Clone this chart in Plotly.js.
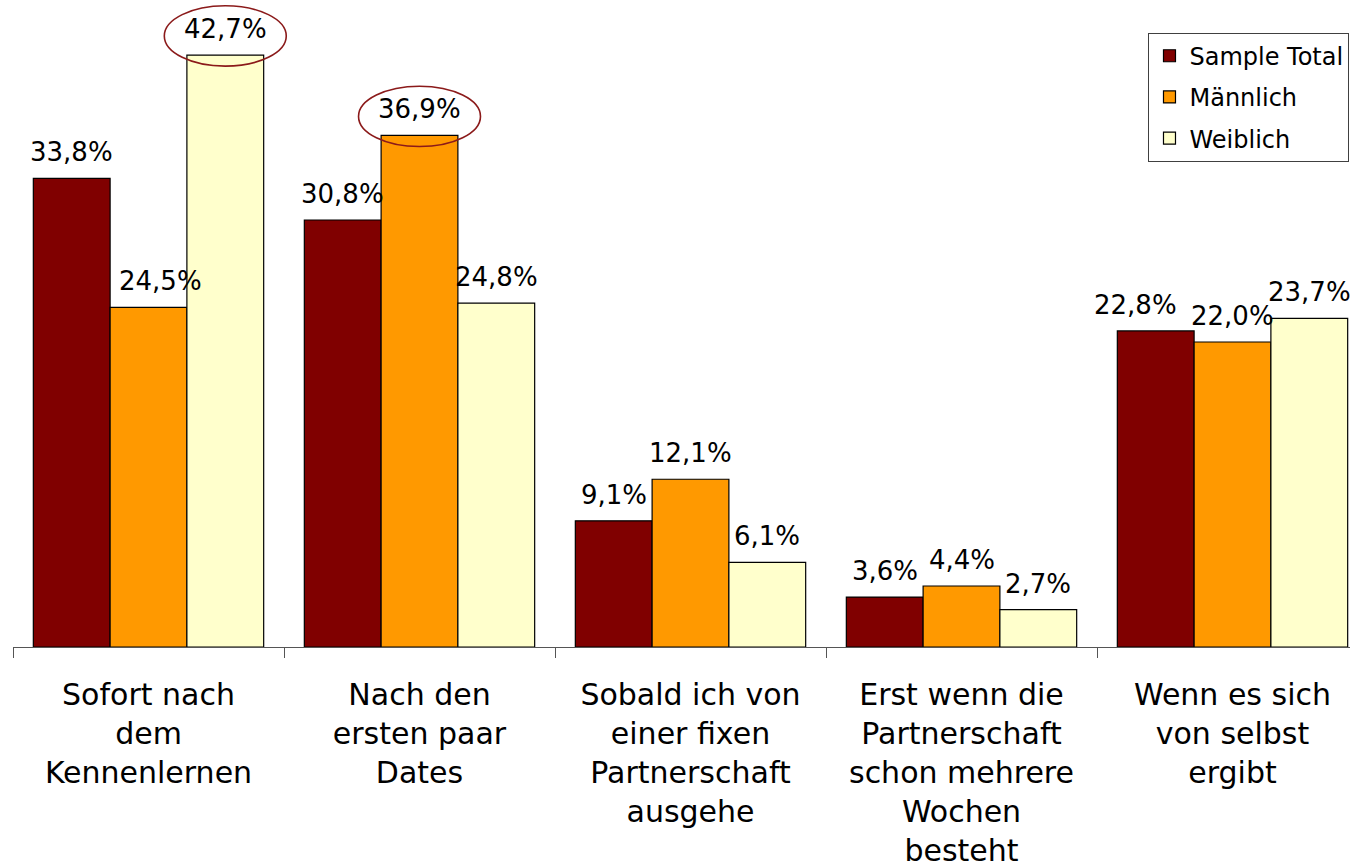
<!DOCTYPE html>
<html>
<head>
<meta charset="utf-8">
<script src="https://cdn.plot.ly/plotly-3.0.1.min.js"></script>
<style>
  html, body { margin: 0; padding: 0; overflow: hidden; background: #fff; }
  #chart { width: 1380px; height: 866px; }
</style>
</head>
<body>
<div id="chart"></div>
<script>
// ---- data ----
var categories = [
  "Sofort nach<br>dem<br>Kennenlernen",
  "Nach den<br>ersten paar<br>Dates",
  "Sobald ich von<br>einer fixen<br>Partnerschaft<br>ausgehe",
  "Erst wenn die<br>Partnerschaft<br>schon mehrere<br>Wochen<br>besteht",
  "Wenn es sich<br>von selbst<br>ergibt"
];
var seriesNames = ["Sample Total", "Männlich", "Weiblich"];
var sampleTotal = [33.8, 30.8, 9.1, 3.6, 22.8];
var maennlich   = [24.5, 36.9, 12.1, 4.4, 22.0];
var weiblich    = [42.7, 24.8, 6.1, 2.7, 23.7];
// highlighted (circled) values: [seriesIndex, categoryIndex]
var highlighted = [[2, 0], [1, 1]];

// ---- styling ----
var colors = ["#800000", "#FF9900", "#FFFFCC"];
var FONT = "DejaVu Sans, Verdana, sans-serif";
var seriesValues = [sampleTotal, maennlich, weiblich];
var bargap = 0.15;
var barW = (1 - bargap) / 3;
var offsets = [-barW, 0, barW];
// manual nudges of individual labels (pixels), as in the original
var labelNudge = { "1,0": 12, "0,4": -20 };

function fmt(v) { return v.toFixed(1).replace(".", ",") + "%"; }

var traces = seriesValues.map(function (vals, s) {
  return {
    type: "bar",
    name: seriesNames[s],
    x: categories,
    y: vals,
    legendgroup: "g" + s,
    marker: { color: colors[s], line: { color: "#000", width: 1.2 } },
    hoverinfo: "y"
  };
});

var annotations = [];
seriesValues.forEach(function (vals, s) {
  vals.forEach(function (v, i) {
    annotations.push({
      x: i + offsets[s], y: v, xref: "x", yref: "y",
      text: fmt(v), showarrow: false,
      xanchor: "center", yanchor: "bottom", yshift: 9,
      xshift: labelNudge[s + "," + i] || 0,
      font: { family: FONT, size: 26, color: "#000" }
    });
  });
});

var shapes = highlighted.map(function (h) {
  var s = h[0], i = h[1];
  var v = seriesValues[s][i];
  var cx = i + offsets[s];
  return {
    type: "circle", xref: "x", yref: "y",
    x0: cx - 0.225, x1: cx + 0.225,
    y0: v - 0.8, y1: v + 3.55,
    line: { color: "#8B1A1A", width: 1.6 },
    fillcolor: "rgba(0,0,0,0)"
  };
});

var layout = {
  width: 1380,
  height: 866,
  margin: { l: 13, r: 12, t: 0, b: 219 },
  paper_bgcolor: "#fff",
  plot_bgcolor: "#fff",
  barmode: "group",
  bargap: bargap,
  bargroupgap: 0,
  font: { family: FONT, color: "#000" },
  showlegend: true,
  legend: {
    x: 0.838, y: 0.9495, xanchor: "left", yanchor: "top",
    bgcolor: "#fff", bordercolor: "#404040", borderwidth: 1,
    font: { family: FONT, size: 24, color: "#000" },
    traceorder: "grouped", tracegroupgap: 7
  },
  xaxis: {
    type: "category",
    range: [-0.5, 4.5],
    showline: true, linecolor: "#555", linewidth: 1,
    ticks: "outside", ticklen: 10, tickcolor: "#555", tickwidth: 1,
    tickson: "boundaries",
    tickfont: { family: FONT, size: 30, color: "#000" },
    ticklabelstandoff: 21,
    showgrid: false, zeroline: false, fixedrange: true
  },
  yaxis: {
    range: [0, 46.67],
    visible: false,
    showgrid: false, zeroline: false, fixedrange: true
  },
  annotations: annotations,
  shapes: shapes
};

Plotly.newPlot("chart", traces, layout, { displayModeBar: false, responsive: false, staticPlot: true });
</script>
</body>
</html>
